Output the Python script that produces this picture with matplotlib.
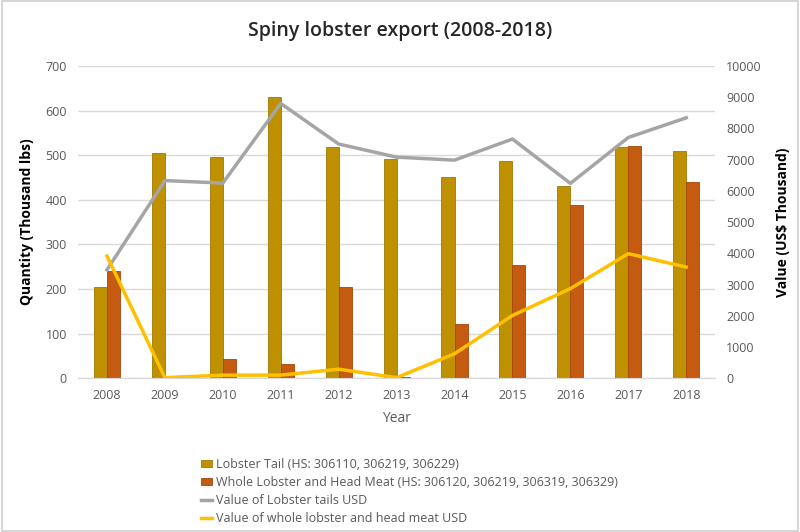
import numpy as np
import matplotlib.pyplot as plt
from matplotlib.patches import Rectangle

plt.rcParams['font.family'] = ['Open Sans', 'DejaVu Sans']

years = ['2008', '2009', '2010', '2011', '2012', '2013', '2014', '2015', '2016', '2017', '2018']
tail_qty = [205, 504, 497, 631, 518, 492, 452, 486, 432, 519, 510]
whole_qty = [241, 0, 44, 32, 205, 2, 122, 254, 388, 521, 440]
tail_value = [3470, 6330, 6250, 8800, 7500, 7080, 6985, 7660, 6240, 7710, 8340]
whole_value = [3915, 20, 100, 100, 290, 20, 785, 2010, 2870, 3990, 3560]

c_tail = '#bf9000'
c_whole = '#c55a11'
c_gray = '#a5a5a5'
c_yellow = '#ffc000'
tick_col = '#595959'

fig = plt.figure(figsize=[8, 5.32], dpi=100)
fig.patches.append(Rectangle((0.002, 0.002), 0.996, 0.996, transform=fig.transFigure,
                             fill=False, edgecolor='#d0d0d0', linewidth=1.2))
ax = fig.add_axes([0.0975, 0.289, 0.7965, 0.587])
ax2 = ax.twinx()

x = np.arange(len(years))
w = 0.225
b1 = ax.bar(x - w / 2, tail_qty, w, color=c_tail, edgecolor='#a07800', linewidth=0.6,
            label='Lobster Tail (HS: 306110, 306219, 306229)', zorder=3)
b2 = ax.bar(x + w / 2, whole_qty, w, color=c_whole, edgecolor='#a8440a', linewidth=0.6,
            label='Whole Lobster and Head Meat (HS: 306120, 306219, 306319, 306329)', zorder=3)
l1, = ax2.plot(x, tail_value, color=c_gray, linewidth=2.5,
               label='Value of Lobster tails USD')
l2, = ax2.plot(x, whole_value, color=c_yellow, linewidth=2.5,
               label='Value of whole lobster and head meat USD')

ax.set_xlim(-0.5, len(years) - 0.5)
ax.set_ylim(0, 700)
ax.set_yticks(range(0, 701, 100))
ax2.set_ylim(0, 10000)
ax2.set_yticks(range(0, 10001, 1000))
ax.set_xticks(x)
ax.set_xticklabels(years)

ax.grid(axis='y', color='#d9d9d9', linewidth=1, zorder=0)
ax.set_axisbelow(True)
for a in (ax, ax2):
    for s in ['top', 'left', 'right']:
        a.spines[s].set_visible(False)
    a.spines['bottom'].set_color('#d9d9d9')
    a.tick_params(length=0, labelsize=9, colors=tick_col, pad=8)

ax.set_xlabel('Year', fontsize=10, color=tick_col, labelpad=6)
ax.set_ylabel('Quantity (Thousand lbs)', fontsize=10, fontweight='bold', labelpad=8)
ax2.set_ylabel('Value (US\\$ Thousand)', fontsize=10, fontweight='bold', labelpad=10)

fig.suptitle('Spiny lobster export (2008-2018)', fontsize=14, fontweight='semibold',
             y=0.96, color='#262626')

fig.legend(handles=[b1, b2, l1, l2], loc='upper left', bbox_to_anchor=(0.245, 0.148),
           frameon=False, fontsize=9, handlelength=0.9, handleheight=0.5, handletextpad=0.3,
           labelspacing=0.4, borderaxespad=0, labelcolor=tick_col)

plt.savefig('out.png', dpi=100)
